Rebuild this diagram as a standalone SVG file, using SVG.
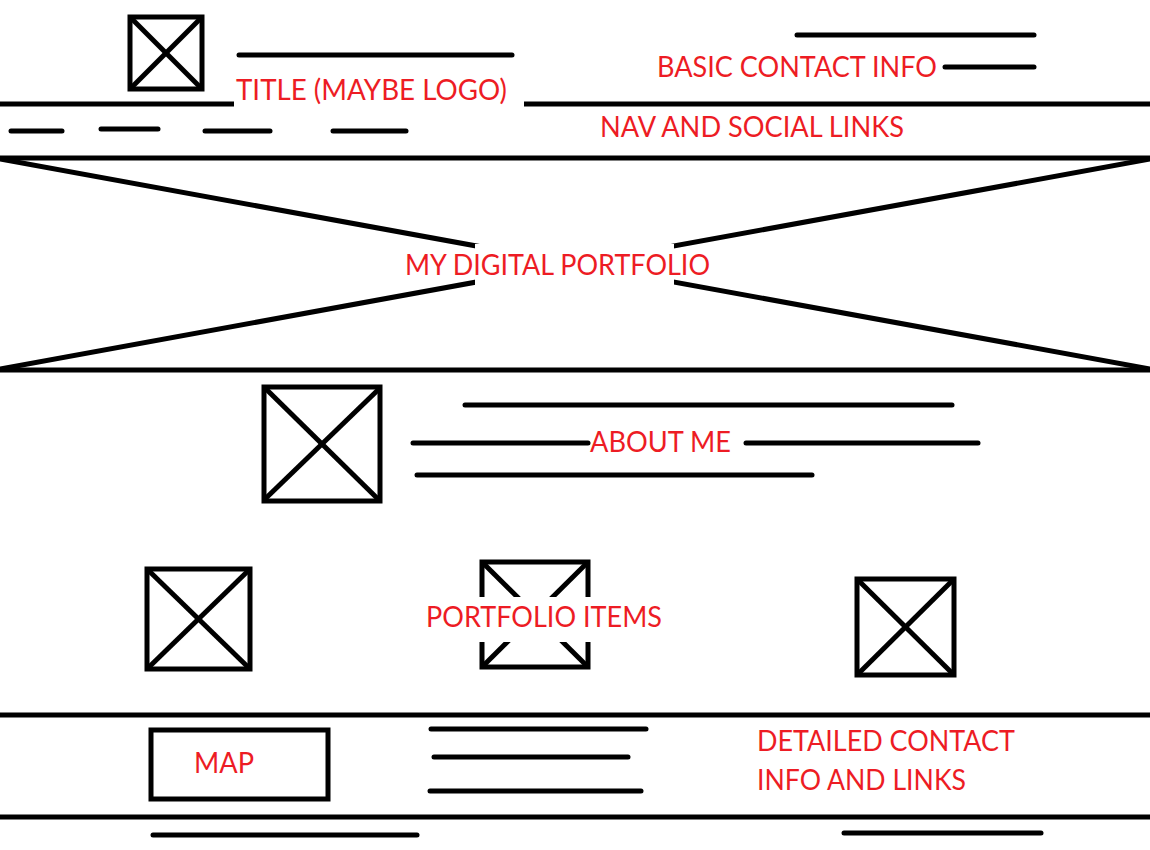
<svg xmlns="http://www.w3.org/2000/svg" width="1150" height="850" viewBox="0 0 1150 850">
<style>
.s{stroke:#000;stroke-width:5;fill:none;stroke-linecap:round}
.b{stroke:#000;stroke-width:5;fill:none;stroke-linecap:butt}
.t{fill:#ED1C24;font-family:Lato,"Open Sans","Liberation Sans",sans-serif;font-size:28px}
.w{fill:#fff;stroke:none}
</style>
<rect width="1150" height="850" fill="#fff"/>
<g id="connectors">
<line class="b" x1="0" y1="104" x2="234" y2="104"/>
<line class="b" x1="524" y1="104" x2="1150" y2="104"/>
<line class="b" x1="0" y1="158" x2="1150" y2="158"/>
<line class="b" x1="0" y1="370" x2="1150" y2="370"/>
<line class="b" x1="0" y1="715" x2="1150" y2="715"/>
<line class="b" x1="0" y1="817" x2="1150" y2="817"/>
</g>
<g id="logo">
<rect class="b" x="130" y="17" width="72" height="72"/>
<line class="b" x1="130" y1="17" x2="202" y2="89"/>
<line class="b" x1="202" y1="17" x2="130" y2="89"/>
</g>
<g id="title">
<line class="s" x1="239" y1="55" x2="512" y2="55"/>
<text class="t" x="236" y="100" textLength="271" lengthAdjust="spacingAndGlyphs">TITLE (MAYBE LOGO)</text>
</g>
<g id="contact-basic">
<line class="s" x1="797" y1="35" x2="1034" y2="35"/>
<line class="s" x1="945" y1="67" x2="1034" y2="67"/>
<text class="t" x="657" y="77" textLength="280" lengthAdjust="spacingAndGlyphs">BASIC CONTACT INFO</text>
</g>
<g id="nav">
<line class="s" x1="11" y1="131" x2="62" y2="131"/>
<line class="s" x1="101" y1="129" x2="158" y2="129"/>
<line class="s" x1="205" y1="131" x2="270" y2="131"/>
<line class="s" x1="333" y1="131" x2="406" y2="131"/>
<text class="t" x="600" y="137" textLength="304" lengthAdjust="spacingAndGlyphs">NAV AND SOCIAL LINKS</text>
</g>
<g id="hero">
<line class="b" x1="0" y1="159" x2="1150" y2="369"/>
<line class="b" x1="1150" y1="159" x2="0" y2="369"/>
<rect class="w" x="475" y="244" width="199" height="41"/>
<text class="t" x="405" y="275" textLength="305" lengthAdjust="spacingAndGlyphs">MY DIGITAL PORTFOLIO</text>
</g>
<g id="about">
<rect class="b" x="264" y="387" width="116" height="114"/>
<line class="b" x1="265" y1="388" x2="380" y2="501"/>
<line class="b" x1="380" y1="388" x2="264" y2="500"/>
<line class="s" x1="465" y1="405" x2="952" y2="405"/>
<line class="s" x1="413" y1="443" x2="588" y2="443"/>
<line class="s" x1="746" y1="443" x2="978" y2="443"/>
<line class="s" x1="417" y1="475" x2="812" y2="475"/>
<text class="t" x="590" y="452" textLength="141" lengthAdjust="spacingAndGlyphs">ABOUT ME</text>
</g>
<g id="item-1">
<rect class="b" x="147" y="569" width="103" height="100"/>
<line class="b" x1="147" y1="569" x2="250" y2="669"/>
<line class="b" x1="250" y1="569" x2="147" y2="669"/>
</g>
<g id="item-2">
<rect class="b" x="482" y="562" width="106" height="105"/>
<line class="b" x1="482" y1="562" x2="588" y2="667"/>
<line class="b" x1="588" y1="562" x2="482" y2="667"/>
<rect class="w" x="424" y="597" width="240" height="45"/>
<text class="t" x="426" y="627" textLength="236" lengthAdjust="spacingAndGlyphs">PORTFOLIO ITEMS</text>
</g>
<g id="item-3">
<rect class="b" x="857" y="579" width="97" height="96"/>
<line class="b" x1="857" y1="579" x2="954" y2="675"/>
<line class="b" x1="954" y1="579" x2="857" y2="675"/>
</g>
<g id="map">
<rect class="b" x="151" y="730" width="177" height="69"/>
<text class="t" x="194" y="773" textLength="60" lengthAdjust="spacingAndGlyphs">MAP</text>
</g>
<g id="footer-lines">
<line class="s" x1="431" y1="729" x2="646" y2="729"/>
<line class="s" x1="434" y1="757" x2="628" y2="757"/>
<line class="s" x1="430" y1="791" x2="641" y2="791"/>
</g>
<g id="contact-detailed">
<text class="t" x="757" y="751" textLength="258" lengthAdjust="spacingAndGlyphs">DETAILED CONTACT</text>
<text class="t" x="757" y="790" textLength="209" lengthAdjust="spacingAndGlyphs">INFO AND LINKS</text>
</g>
<g id="bottom-lines">
<line class="s" x1="153" y1="835" x2="417" y2="835"/>
<line class="s" x1="844" y1="833" x2="1041" y2="833"/>
</g>
</svg>
